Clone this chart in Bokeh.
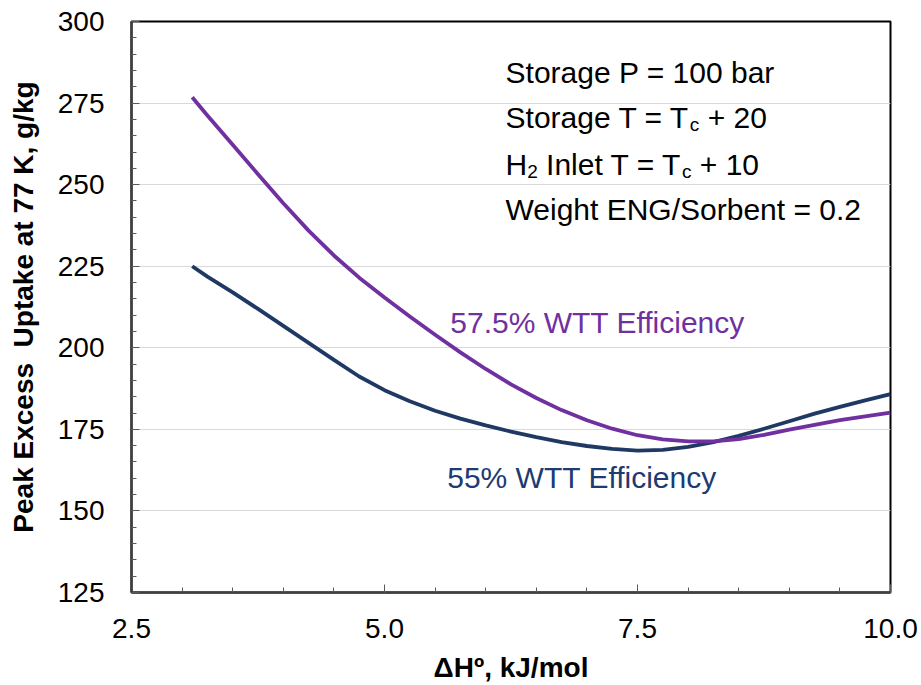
from bokeh.plotting import figure
from bokeh.models import Label, SingleIntervalTicker, PrintfTickFormatter
from bokeh.embed import file_html
from bokeh.resources import INLINE

# Heat of adsorption, kJ/mol
dh = [3.1, 3.25, 3.5, 3.75, 4.0, 4.25, 4.5, 4.75, 5.0, 5.25, 5.5, 5.75, 6.0, 6.25,
      6.5, 6.75, 7.0, 7.25, 7.5, 7.75, 8.0, 8.25, 8.5, 8.75, 9.0, 9.25, 9.5, 9.75, 10.0]
# Peak excess uptake at 77 K, g/kg
uptake_575 = [276.8, 271.2, 262.2, 253.2, 244.3, 235.9, 228.3, 221.5, 215.4, 209.6,
              204.0, 198.6, 193.5, 188.8, 184.6, 180.9, 177.8, 175.2, 173.2, 171.9,
              171.3, 171.3, 172.0, 173.3, 174.9, 176.4, 177.8, 179.0, 180.1]
uptake_55 = [225.0, 221.8, 217.0, 211.9, 206.7, 201.5, 196.3, 191.2, 187.0, 183.6,
             180.7, 178.3, 176.2, 174.3, 172.6, 171.1, 169.9, 169.0, 168.5, 168.7,
             169.6, 171.1, 173.0, 175.2, 177.5, 179.8, 181.9, 183.9, 185.8]

series_names = ["57.5% WTT Efficiency", "55% WTT Efficiency"]
x_ticks_interval = 2.5
y_ticks_interval = 25

PURPLE = "#7030A0"
NAVY = "#1F3864"
NAVY_TEXT = "#203A72"
FONT = "Liberation Sans"
FS = 30          # annotation font size, px
FS_SUB = 19      # subscript font size, px
NBSP = "\u00a0"

# Arial / Liberation Sans advance widths (em units) for the characters used
_W = {
    " ": .278, NBSP: .278, "+": .584, "=": .584, ".": .278, "/": .278, "%": .889,
    "0": .556, "1": .556, "2": .556, "5": .556, "7": .556,
    "E": .667, "G": .778, "H": .722, "I": .278, "N": .722, "P": .667,
    "S": .667, "T": .611, "W": .944,
    "a": .556, "b": .556, "c": .5, "e": .556, "g": .556, "h": .556,
    "i": .222, "l": .222, "n": .556, "o": .556, "r": .333, "t": .278,
}


def text_width(s, size):
    return sum(_W.get(ch, .556) for ch in s) * size


p = figure(width=921, height=685, x_range=(2.5, 10.0), y_range=(125, 300),
           output_backend="svg", toolbar_location=None,
           min_border_left=131, min_border_right=31,
           min_border_top=21, min_border_bottom=93,
           background_fill_color="white", border_fill_color="white")

p.outline_line_color = "black"
p.outline_line_width = 2

p.xaxis.ticker = SingleIntervalTicker(interval=x_ticks_interval, num_minor_ticks=5)
p.yaxis.ticker = SingleIntervalTicker(interval=y_ticks_interval, num_minor_ticks=5)
p.xaxis.formatter = PrintfTickFormatter(format="%.1f")

for ax in (p.xaxis[0], p.yaxis[0]):
    ax.axis_line_color = "#404040"
    ax.axis_line_width = 2.5
    ax.major_tick_in = 8
    ax.major_tick_out = 0
    ax.minor_tick_in = 5
    ax.minor_tick_out = 0
    ax.major_tick_line_color = "#595959"
    ax.minor_tick_line_color = "#595959"
    ax.major_label_text_font = FONT
    ax.major_label_text_font_size = "28px"
    ax.major_label_text_color = "black"
    ax.axis_label_text_font = FONT
    ax.axis_label_text_font_style = "bold"
    ax.axis_label_text_color = "black"

p.yaxis.major_label_standoff = 27
p.xaxis.major_label_standoff = 26
p.yaxis.axis_label = "Peak Excess" + NBSP + " Uptake at 77 K, g/kg"
p.yaxis.axis_label_text_font_size = "28px"
p.yaxis.axis_label_standoff = 16
p.xaxis.axis_label = "\u0394H\u00ba, kJ/mol"
p.xaxis.axis_label_text_font_size = "28px"
p.xaxis.axis_label_standoff = 11

p.xgrid.visible = False
p.ygrid.grid_line_color = "#d9d9d9"
p.ygrid.grid_line_width = 1

p.line(dh, uptake_55, line_color=NAVY, line_width=3.8, line_join="round")
p.line(dh, uptake_575, line_color=PURPLE, line_width=3.8, line_join="round")

# series labels
p.add_layout(Label(x=5.65, y=207.7, text=series_names[0], text_color=PURPLE,
                   text_font=FONT, text_font_size=f"{FS}px",
                   text_baseline="alphabetic"))
p.add_layout(Label(x=5.62, y=160.3, text=series_names[1], text_color=NAVY_TEXT,
                   text_font=FONT, text_font_size=f"{FS}px",
                   text_baseline="alphabetic"))

# condition block: each line is a run of (text, is_subscript) pieces
cond_x = 6.196
cond_lines = [
    (284.3, [("Storage P = 100 bar", False)]),
    (270.5, [("Storage T = T", False), ("c", True), (NBSP + "+ 20", False)]),
    (256.2, [("H", False), ("2", True), (NBSP + "Inlet T = T", False), ("c", True),
             (NBSP + "+ 10", False)]),
    (242.4, [("Weight ENG/Sorbent = 0.2", False)]),
]
for y, pieces in cond_lines:
    dx = 0.0
    for txt, sub in pieces:
        size = FS_SUB if sub else FS
        p.add_layout(Label(x=cond_x, y=y, x_offset=dx, y_offset=-7 if sub else 0,
                           text=txt, text_color="black", text_font=FONT,
                           text_font_size=f"{size}px", text_baseline="alphabetic"))
        dx += text_width(txt, size)

open("out.html", "w").write(file_html(p, INLINE))
